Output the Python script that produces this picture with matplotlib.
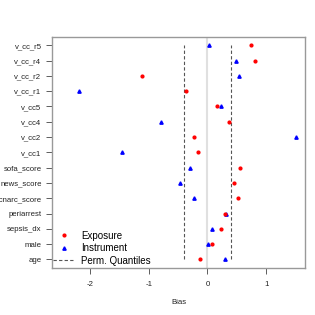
import matplotlib
matplotlib.use("Agg")
import matplotlib.pyplot as plt
from matplotlib.lines import Line2D

plt.rcParams['font.family'] = ['Liberation Sans', 'DejaVu Sans']

categories = ["age", "male", "sepsis_dx", "periarrest", "icnarc_score", "news_score",
              "sofa_score", "v_cc1", "v_cc2", "v_cc4", "v_cc5", "v_cc_r1", "v_cc_r2",
              "v_cc_r4", "v_cc_r5"]
exposure = [-0.13, 0.07, 0.23, 0.29, 0.52, 0.46, 0.56, -0.165, -0.23, 0.37, 0.17,
            -0.37, -1.12, 0.81, 0.74]
instrument = [0.29, 0.017, 0.085, 0.32, -0.23, -0.47, -0.30, -1.46, 1.50, -0.79, 0.23,
              -2.19, 0.54, 0.49, 0.02]
perm_quantiles = [-0.40, 0.40]
xticks = [-2, -1, 0, 1]

fig = plt.figure(figsize=(3.15, 3.15), dpi=100)
ax = fig.add_axes([0.165, 0.149, 0.803, 0.7345])
ypos = list(range(1, len(categories) + 1))

ax.axvline(0, color="#e0e0e0", lw=1.5, zorder=1)
for q in perm_quantiles:
    ax.plot([q, q], [ypos[0], ypos[-1]], color="#555555", lw=0.8, ls=(0, (3, 2)), zorder=2)
ax.plot(instrument, ypos, ls="none", marker="^", color="blue", ms=2.4, zorder=3)
ax.plot(exposure, ypos, ls="none", marker="o", color="red", ms=2.0, zorder=4)

ax.set_xlim(-2.65, 1.66)
ax.set_ylim(0.44, 15.56)
ax.set_yticks(ypos)
ax.set_yticklabels(categories)
ax.set_xticks(xticks)
ax.set_xticklabels([str(t) for t in xticks])
ax.tick_params(axis="both", labelsize=5.6, length=4, width=0.6, color="#444444", labelcolor="#222222")
ax.tick_params(axis="x", pad=5)
for s in ax.spines.values():
    s.set_color("#999999")
    s.set_linewidth(1.0)
ax.set_xlabel("Bias", fontsize=5.6, color="#222222", labelpad=8)

handles = [Line2D([], [], ls="none", marker="o", color="red", ms=2.0),
           Line2D([], [], ls="none", marker="^", color="blue", ms=2.4),
           Line2D([], [], color="#555555", lw=0.8, ls=(0, (3, 2)))]
ax.legend(handles, ["Exposure", "Instrument", "Perm. Quantiles"], loc="lower left",
          bbox_to_anchor=(-0.005, 0.002), frameon=False, fontsize=7.0, handlelength=2.3,
          handletextpad=0.6, labelspacing=0.25, borderpad=0.2, borderaxespad=0.0)

fig.savefig("out.png", dpi=100)
